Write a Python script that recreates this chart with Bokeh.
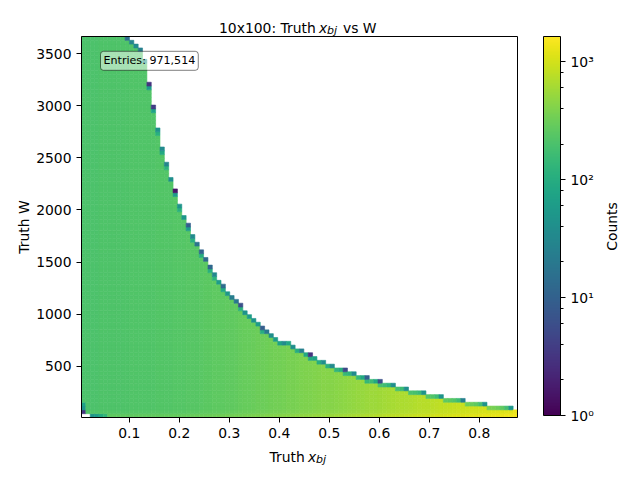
import numpy as np
from bokeh.plotting import figure
from bokeh.models import (ColumnDataSource, LogColorMapper, ColorBar, LogTicker,
                          FixedTicker, Label, Range1d, BoxAnnotation)
from bokeh.palettes import Viridis256
from bokeh.embed import file_html
from bokeh.resources import INLINE

# histogram binning (100 x 100 bins)
X_MIN, X_MAX = 0.0046, 0.8765
W_MIN, W_MAX = 10.0, 3663.0
N_X, N_W = 100, 100
C_MIN, C_MAX = 1, 1630
ENTRIES = 971514

# number of filled W bins in each x column
n_rows = [
    100, 100, 100, 100, 100, 100, 100, 100, 100, 100,
    100, 99, 98, 97, 94, 88, 82, 76, 71, 67,
    63, 60, 56, 53, 51, 48, 46, 44, 42, 40,
    38, 36, 35, 33, 32, 31, 30, 28, 27, 26,
    25, 24, 23, 22, 21, 20, 20, 20, 19, 18,
    18, 17, 17, 16, 15, 15, 14, 14, 13, 13,
    13, 12, 12, 11, 11, 11, 10, 10, 10, 9,
    9, 9, 8, 8, 8, 7, 7, 7, 7, 6,
    6, 6, 6, 5, 5, 5, 5, 5, 4, 4,
    4, 4, 4, 3, 3, 3, 3, 3, 3, 2,
]

# typical counts per bin inside each column
body_counts = [
    205, 207, 208, 209, 210, 211, 212, 213, 214, 214,
    215, 216, 217, 218, 219, 220, 222, 223, 224, 226,
    227, 229, 230, 233, 236, 239, 242, 246, 250, 254,
    257, 260, 263, 267, 270, 276, 282, 288, 294, 300,
    306, 312, 318, 326, 333, 340, 347, 354, 362, 370,
    378, 386, 394, 402, 410, 420, 425, 430, 442, 455,
    468, 481, 494, 507, 520, 533, 546, 558, 570, 585,
    600, 616, 632, 648, 664, 680, 696, 712, 728, 744,
    760, 778, 796, 814, 832, 850, 868, 886, 904, 922,
    940, 960, 978, 996, 1014, 1032, 1050, 1080, 1110, 1150,
]

# counts in the top (edge) bin of each column
edge_counts = [
    205, 207, 208, 209, 210, 211, 212, 213, 214, 214,
    15, 30, 35, 25, 50, 3, 4, 45, 35, 30,
    40, 1.5, 45, 50, 9, 35, 17, 11, 13, 12,
    32, 60, 14, 50, 24, 19, 6, 45, 60, 45,
    60, 9, 20, 40, 60, 70, 35, 80, 40, 100,
    25, 90, 3, 70, 100, 40, 110, 35, 130, 100,
    5, 120, 35, 140, 90, 10, 160, 90, 6, 170,
    130, 40, 190, 160, 40, 200, 190, 150, 45, 240,
    220, 170, 45, 270, 250, 220, 160, 25, 320, 300,
    260, 180, 45, 380, 360, 320, 270, 180, 50, 1300,
]

# lowest W bins carry a few more counts
row_scale = [1.25, 1.06]

# individual bins (column, row, counts); 0 = empty bin
special_cells = [
    (0, 0, 0), (1, 0, 0), (0, 1, 3), (0, 2, 45), (0, 3, 70),
    (2, 0, 45), (3, 0, 60), (4, 0, 90), (5, 0, 130),
    (15, 86, 60), (16, 80, 70), (17, 74, 110), (18, 69, 90), (19, 65, 120),
    (21, 58, 60), (22, 54, 110), (24, 49, 60), (25, 46, 110), (27, 42, 100),
    (29, 38, 110), (30, 36, 120), (32, 33, 90), (36, 28, 110), (41, 22, 100),
    (52, 15, 90), (60, 11, 150), (65, 9, 140), (68, 8, 200),
]

x_ticks = [0.1, 0.2, 0.3, 0.4, 0.5, 0.6, 0.7, 0.8]
w_ticks = [500, 1000, 1500, 2000, 2500, 3000, 3500]
cbar_labels = {1: "10⁰", 10: "10¹", 100: "10²", 1000: "10³"}

x_edges = np.linspace(X_MIN, X_MAX, N_X + 1)
w_edges = np.linspace(W_MIN, W_MAX, N_W + 1)

cells = {}
for i, n in enumerate(n_rows):
    for j in range(n):
        scale = row_scale[j] if j < len(row_scale) else 1.0
        cells[(i, j)] = body_counts[i] * scale
    cells[(i, n - 1)] = edge_counts[i]
for i, j, c in special_cells:
    if c == 0:
        cells.pop((i, j), None)
    else:
        cells[(i, j)] = c

keys = sorted(cells)
source = ColumnDataSource(dict(
    left=[x_edges[i] for i, j in keys],
    right=[x_edges[i + 1] for i, j in keys],
    bottom=[w_edges[j] for i, j in keys],
    top=[w_edges[j + 1] for i, j in keys],
    count=[cells[k] for k in keys],
))

FONT = "DejaVu Sans"
CW, CH = 632, 472                   # canvas size
FL, FT, FW, FH = 81, 36, 436, 381   # histogram box on the canvas


def px_x(px):
    return X_MIN + (px - FL) / FW * (X_MAX - X_MIN)


def px_y(py):
    return W_MIN + (FT + FH - py) / FH * (W_MAX - W_MIN)


mapper = LogColorMapper(palette=Viridis256, low=C_MIN, high=C_MAX)

# the frame covers the whole canvas so that texts around the box are not clipped
p = figure(width=CW, height=CH, min_border=0,
           x_range=Range1d(px_x(0), px_x(CW)), y_range=Range1d(px_y(CH), px_y(0)),
           output_backend="svg", toolbar_location=None, tools="")

p.quad(left="left", right="right", bottom="bottom", top="top", source=source,
       fill_color={"field": "count", "transform": mapper},
       line_color={"field": "count", "transform": mapper}, line_width=0.6)

p.xgrid.grid_line_color = None
p.ygrid.grid_line_color = None
p.outline_line_color = None
p.xaxis.ticker = FixedTicker(ticks=x_ticks)
p.yaxis.ticker = FixedTicker(ticks=w_ticks)
p.xaxis.fixed_location = W_MIN
p.yaxis.fixed_location = X_MIN
for ax in (p.xaxis, p.yaxis):
    ax.major_label_text_font = FONT
    ax.major_label_text_font_size = "13.9px"
    ax.major_label_text_color = "black"
    ax.major_tick_out = 5
    ax.major_tick_in = 0
    ax.minor_tick_out = 0
    ax.major_tick_line_color = "black"
    ax.axis_line_color = None
    ax.major_label_standoff = 5

p.add_layout(BoxAnnotation(left=X_MIN, right=X_MAX, bottom=W_MIN, top=W_MAX,
                           fill_alpha=0, line_color="black", line_alpha=1, line_width=1))

color_bar = ColorBar(color_mapper=mapper, ticker=LogTicker(),
                     major_label_overrides=cbar_labels,
                     width=17, height=379, location=(543, CH - 415), padding=0, margin=0,
                     major_tick_in=0, major_tick_out=5, minor_tick_in=0, minor_tick_out=3,
                     major_tick_line_color="black", minor_tick_line_color="black",
                     bar_line_color="black", label_standoff=5,
                     major_label_text_font=FONT, major_label_text_font_size="13.9px",
                     major_label_text_color="black", background_fill_alpha=0)
p.add_layout(color_bar)


def add_text(text, px, py, size="13.9px", style="normal", **kw):
    p.add_layout(Label(x=px_x(px), y=px_y(py), text=text, text_font=FONT,
                       text_font_size=size, text_font_style=style, text_color="black",
                       text_baseline=kw.pop("baseline", "alphabetic"),
                       text_align=kw.pop("align", "left"), **kw))


# title: 10x100: Truth x_bj vs W
add_text("10x100: Truth", 218.5, 27)
add_text("x", 318.5, 27, style="italic")
add_text("bj", 326.5, 29.5, size="11px", style="italic")
add_text("vs W", 342.5, 27)

# x axis label: Truth x_bj
add_text("Truth", 269.0, 456)
add_text("x", 307.5, 456, style="italic")
add_text("bj", 315.5, 458.5, size="11px", style="italic")

# y axis label and colour bar label
add_text("Truth W", 23, 226.5, align="center", angle=np.pi / 2)
add_text("Counts", 611, 226, align="center", angle=np.pi / 2)

# entries box
p.add_layout(Label(x=px_x(100), y=px_y(60.3), text=f"Entries: {ENTRIES:,}",
                   text_font=FONT, text_font_size="11.1px", text_baseline="middle",
                   text_align="left", text_color="black", padding=3, border_radius=3,
                   background_fill_color="white", background_fill_alpha=0.5,
                   border_line_color="black", border_line_alpha=0.5))

open("out.html", "w").write(file_html(p, INLINE))
